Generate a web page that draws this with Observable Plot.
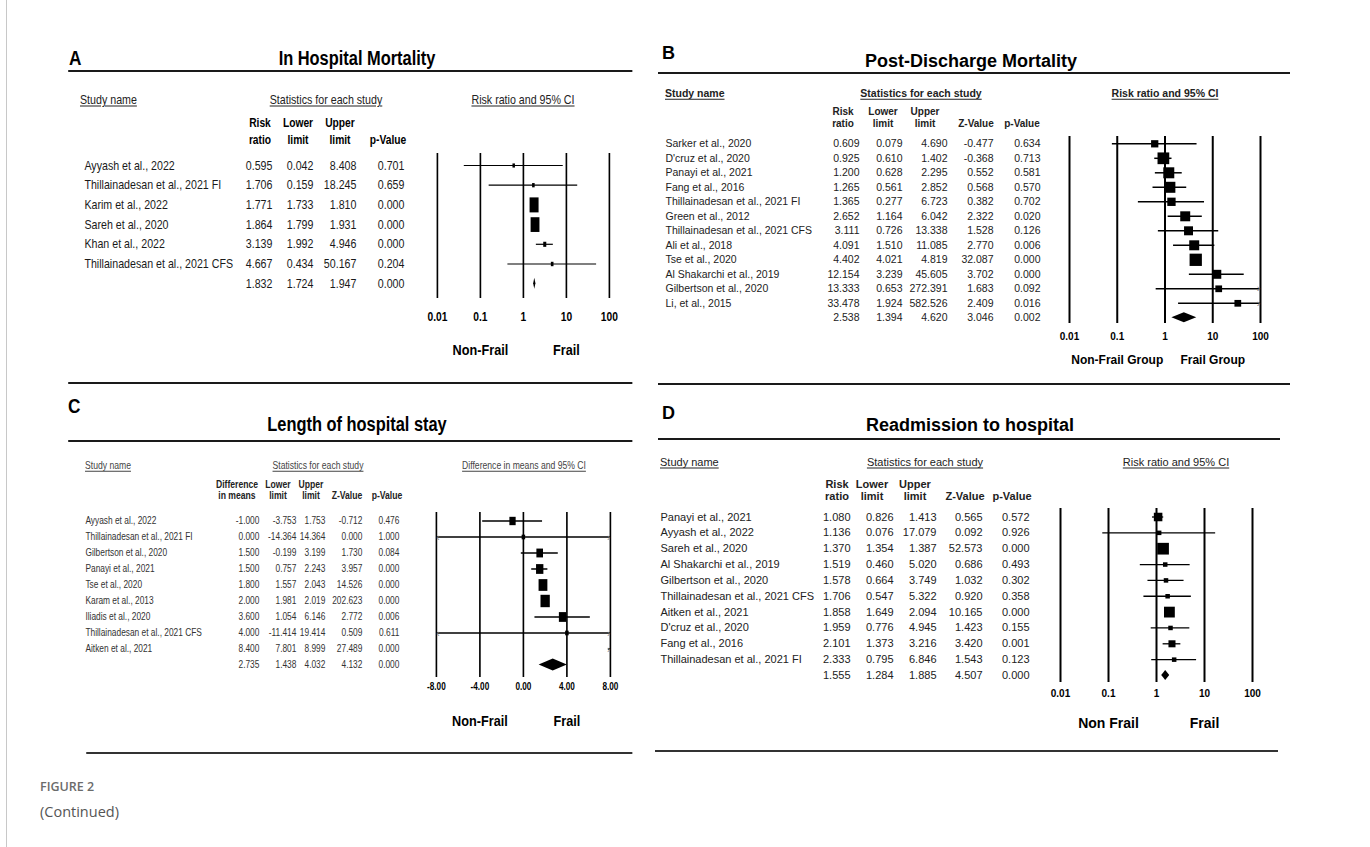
<!DOCTYPE html>
<html><head><meta charset="utf-8">
<script src="https://cdn.jsdelivr.net/npm/d3@7"></script>
<script src="https://cdn.jsdelivr.net/npm/@observablehq/plot@0.6"></script>
<style>
html,body{margin:0;padding:0;background:#fff;}
#page{position:relative;width:1370px;height:847px;overflow:hidden;background:#fff;}
.t{position:absolute;white-space:nowrap;line-height:1;}
.r{position:absolute;}
.p{position:absolute;}
.panel{position:absolute;top:0;height:847px;transform-origin:0 0;}
</style></head><body><div id="page"></div>
<script>
// ---------------- DATA ----------------
// Panel A: In Hospital Mortality
const studiesA = ["Ayyash et al., 2022","Thillainadesan et al., 2021 FI","Karim et al., 2022","Sareh et al., 2020","Khan et al., 2022","Thillainadesan et al., 2021 CFS"];
const rrA    = [0.595, 1.706, 1.771, 1.864, 3.139, 4.667];
const lowerA = [0.042, 0.159, 1.733, 1.799, 1.992, 0.434];
const upperA = [8.408, 18.245, 1.810, 1.931, 4.946, 50.167];
const pA     = [0.701, 0.659, 0.000, 0.000, 0.000, 0.204];
const weightA = [0.3, 0.4, 47, 45, 1.2, 0.5];
const pooledA = [1.832, 1.724, 1.947, 0.000];
const groupsA = ["Non-Frail", "Frail"];

// Panel B: Post-Discharge Mortality
const studiesB = ["Sarker et al., 2020","D'cruz et al., 2020","Panayi et al., 2021","Fang et al., 2016","Thillainadesan et al., 2021 FI","Green et al., 2012","Thillainadesan et al., 2021 CFS","Ali et al., 2018","Tse et al., 2020","Al Shakarchi et al., 2019","Gilbertson et al., 2020","Li, et al., 2015"];
const rrB    = [0.609, 0.925, 1.200, 1.265, 1.365, 2.652, 3.111, 4.091, 4.402, 12.154, 13.333, 33.478];
const lowerB = [0.079, 0.610, 0.628, 0.561, 0.277, 1.164, 0.726, 1.510, 4.021, 3.239, 0.653, 1.924];
const upperB = [4.690, 1.402, 2.295, 2.852, 6.723, 6.042, 13.338, 11.085, 4.819, 45.605, 272.391, 582.526];
const zB     = [-0.477, -0.368, 0.552, 0.568, 0.382, 2.322, 1.528, 2.770, 32.087, 3.702, 1.683, 2.409];
const pB     = [0.634, 0.713, 0.581, 0.570, 0.702, 0.020, 0.126, 0.006, 0.000, 0.000, 0.092, 0.016];
const weightB = [4.2, 10.9, 9.6, 9.6, 5.5, 7.9, 6.4, 7.9, 12, 6.4, 3.6, 3.6];
const pooledB = [2.538, 1.394, 4.620, 3.046, 0.002];
const groupsB = ["Non-Frail Group", "Frail Group"];

// Panel C: Length of hospital stay
const studiesC = ["Ayyash et al., 2022","Thillainadesan et al., 2021 FI","Gilbertson et al., 2020","Panayi et al., 2021","Tse et al., 2020","Karam et al., 2013","Iliadis et al., 2020","Thillainadesan et al., 2021 CFS","Aitken et al., 2021"];
const diffC  = [-1.000, 0.000, 1.500, 1.500, 1.800, 2.000, 3.600, 4.000, 8.400];
const lowerC = [-3.753, -14.364, -0.199, 0.757, 1.557, 1.981, 1.054, -11.414, 7.801];
const upperC = [1.753, 14.364, 3.199, 2.243, 2.043, 2.019, 6.146, 19.414, 8.999];
const zC     = [-0.712, 0.000, 1.730, 3.957, 14.526, 202.623, 2.772, 0.509, 27.489];
const pC     = [0.476, 1.000, 0.084, 0.000, 0.000, 0.000, 0.006, 0.611, 0.000];
const weightC = [4.1, 0.2, 5.0, 6.9, 12, 14, 6.9, 0.2, 11.3];
const pooledC = [2.735, 1.438, 4.032, 4.132, 0.000];
const groupsC = ["Non-Frail", "Frail"];

// Panel D: Readmission to hospital
const studiesD = ["Panayi et al., 2021","Ayyash et al., 2022","Sareh et al., 2020","Al Shakarchi et al., 2019","Gilbertson et al., 2020","Thillainadesan et al., 2021 CFS","Aitken et al., 2021","D'cruz et al., 2020","Fang et al., 2016","Thillainadesan et al., 2021 FI"];
const rrD    = [1.080, 1.136, 1.370, 1.519, 1.578, 1.706, 1.858, 1.959, 2.101, 2.333];
const lowerD = [0.826, 0.076, 1.354, 0.460, 0.664, 0.547, 1.649, 0.776, 1.373, 0.795];
const upperD = [1.413, 17.079, 1.387, 5.020, 3.749, 5.322, 2.094, 4.945, 3.216, 6.846];
const zD     = [0.565, 0.092, 52.573, 0.686, 1.032, 0.920, 10.165, 1.423, 3.420, 1.543];
const pD     = [0.572, 0.926, 0.000, 0.493, 0.302, 0.358, 0.000, 0.155, 0.001, 0.123];
const weightD = [14.8, 0.5, 40, 0.5, 0.5, 0.5, 31.6, 0.5, 7.2, 0.5];
const pooledD = [1.555, 1.284, 1.885, 4.507, 0.000];
const groupsD = ["Non Frail", "Frail"];

// Axis ticks
const ticksRR = [0.01, 0.1, 1, 10, 100];
const tickLabelsRR = ["0.01", "0.1", "1", "10", "100"];
const ticksC = [-8, -4, 0, 4, 8];
const tickLabelsC = ["-8.00", "-4.00", "0.00", "4.00", "8.00"];

// ---------------- LAYOUT / HELPERS ----------------
const ARIAL = '"Liberation Sans",Arial,Helvetica,sans-serif';
const page = document.getElementById("page");

// A panel context: texts are drawn at normal width, then the whole panel is
// horizontally condensed by k (to mimic the narrow typeface of the original).
function makePanel(ox, k) {
  const el = document.createElement("div");
  el.className = "panel";
  el.style.left = ox + "px";
  el.style.width = ((1370 - ox) / k) + "px";
  el.style.transform = `scaleX(${k})`;
  page.append(el);
  return {el, k, X: x => (x - ox) / k};
}

function txt(P, x, y, s, o = {}) {
  const d = document.createElement("div");
  d.className = "t";
  d.textContent = s;
  const ax = o.a === "middle" ? "-50%" : o.a === "end" ? "-100%" : "0";
  Object.assign(d.style, {
    left: P.X(x) + "px", top: y + "px",
    fontFamily: o.f || ARIAL, fontSize: (o.s || 12) + "px",
    fontWeight: o.w || "normal", color: o.c || "#000",
    transform: `translate(${ax},-50%)`,
    textDecoration: o.u ? "underline" : "none",
    textUnderlineOffset: "2px"
  });
  P.el.append(d);
}
function hrule(P, x1, x2, y, t = 2, c = "#1a1a1a") {
  const d = document.createElement("div");
  d.className = "r";
  Object.assign(d.style, {left: P.X(x1) + "px", top: (y - t / 2) + "px", width: ((x2 - x1) / P.k) + "px", height: t + "px", background: c});
  P.el.append(d);
}
const rectSymbol = a => ({
  draw(ctx, size) {
    const r = Math.sqrt(size / Math.PI), w = r * a;
    ctx.moveTo(-w, -r); ctx.lineTo(w, -r); ctx.lineTo(w, r); ctx.lineTo(-w, r); ctx.closePath();
  }
});

function forest(P, cfg) {
  const n = cfg.names.length, N = n + 1;
  const [dmin, dmax] = cfg.xDomain;
  const rows = cfg.names.map((name, i) => ({i, name, est: cfg.est[i], lo: cfg.lo[i], hi: cfg.hi[i], w: cfg.weight[i], vals: cfg.cols.map(c => c[i])}));
  const pooled = cfg.pooled;
  const table = rows.concat([{i: n, name: "", vals: pooled}]);
  const clampX = v => Math.max(dmin, Math.min(dmax, v));
  const L = cfg.box.left, T = cfg.box.top;
  const lx = x => (x - L) / P.k;            // page x -> svg x (pre-condensing)
  const lastY = cfg.rowY0 + (N - 1) * cfg.step;
  const h = cfg.diamondHalf / cfg.step;
  const fmt = v => v.toFixed(3);
  const tOpt = {fontFamily: ARIAL, fontSize: cfg.rowSize, fill: cfg.rowColor};
  const marks = [
    Plot.ruleX(cfg.ticks, {stroke: "#000", strokeWidth: cfg.gridWidth}),
    Plot.axisX({ticks: cfg.ticks, tickFormat: d => cfg.tickLabels[cfg.ticks.indexOf(d)], tickSize: 0, tickPadding: cfg.tickPad,
      fontSize: cfg.tickSize, fontWeight: "bold", fontFamily: ARIAL, fill: "#000", label: null}),
    Plot.text(table, {y: "i", text: "name", frameAnchor: "left", dx: lx(cfg.nameX), textAnchor: "start", ...tOpt}),
    ...cfg.colRight.map((xr, k) => Plot.text(table, {y: "i", text: d => fmt(d.vals[k]), frameAnchor: "left", dx: lx(xr), textAnchor: "end", ...tOpt})),
    Plot.ruleY(rows, {y: "i", x1: d => clampX(d.lo), x2: d => clampX(d.hi), stroke: "#000", strokeWidth: cfg.ciWidth}),
    Plot.dot(rows.filter(d => d.est >= dmin && d.est <= dmax), {x: "est", y: "i", r: "w", symbol: rectSymbol(cfg.aspect / P.k), fill: "#000", stroke: "none"}),
    Plot.text(rows.filter(d => d.hi > dmax), {x: dmax, y: "i", text: () => "›", fontSize: 11, fill: "#888", dx: -2, fontFamily: ARIAL}),
    Plot.text(rows.filter(d => d.lo < dmin), {x: dmin, y: "i", text: () => "‹", fontSize: 11, fill: "#888", dx: 2, fontFamily: ARIAL}),
    Plot.areaX([
      {y: n - h, x1: pooled[0], x2: pooled[0]},
      {y: n, x1: pooled[1], x2: pooled[2]},
      {y: n + h, x1: pooled[0], x2: pooled[0]}
    ], {y: "y", x1: "x1", x2: "x2", fill: "#000", curve: "linear"}),
    Plot.text(cfg.groups, {x: (d, i) => cfg.groupX[i], frameAnchor: "bottom", dy: cfg.groupY - cfg.lineBottom, text: d => d,
      fontWeight: "bold", fontSize: cfg.groupSize, fontFamily: ARIAL, fill: "#000"})
  ];
  const svg = Plot.plot({
    width: cfg.box.width / P.k, height: cfg.box.height,
    marginLeft: 0, marginRight: 0,
    marginTop: cfg.lineTop - T, marginBottom: T + cfg.box.height - cfg.lineBottom,
    x: {type: cfg.xType, domain: cfg.xDomain, range: [lx(cfg.xPix[0]), lx(cfg.xPix[1])]},
    y: {type: "linear", domain: [0, N - 1], range: [cfg.rowY0 - T, lastY - T], axis: null},
    r: {type: "pow", exponent: 0.5, domain: [0, cfg.wMax], range: cfg.rRange},
    style: {background: "none", overflow: "visible", fontFamily: ARIAL, color: "#000"},
    marks
  });
  const wrap = document.createElement("div");
  wrap.className = "p";
  wrap.style.left = P.X(L) + "px"; wrap.style.top = T + "px";
  wrap.append(svg);
  P.el.append(wrap);
}

// ---------------- PAGE FRAME ----------------
(function () {
  const b = document.createElement("div");
  Object.assign(b.style, {position: "absolute", left: "6px", top: "0px", width: "1px", height: "847px", background: "#c8c8c8"});
  page.append(b);
})();

const KN = 0.82; // condensing factor for the narrow-type panels A and C

// ---------------- PANEL A ----------------
const PA = makePanel(60, KN);
txt(PA, 69, 57, "A", {s: 21, w: "bold"});
txt(PA, 357, 58, "In Hospital Mortality", {s: 20, w: "bold", a: "middle"});
hrule(PA, 68, 632, 71, 2);
txt(PA, 80, 99, "Study name", {s: 13, u: true, c: "#222"});
txt(PA, 326, 99, "Statistics for each study", {s: 13, a: "middle", u: true, c: "#222"});
txt(PA, 523, 99, "Risk ratio and 95% CI", {s: 13, a: "middle", u: true, c: "#222"});
[["Risk","ratio",260],["Lower","limit",298],["Upper","limit",340],["","p-Value",388]].forEach(([a, b, x]) => {
  if (a) txt(PA, x, 123, a, {s: 12.5, w: "bold", a: "middle"});
  txt(PA, x, 140, b, {s: 12.5, w: "bold", a: "middle"});
});
forest(PA, {
  box: {left: 60, top: 40, width: 590, height: 345},
  names: studiesA, est: rrA, lo: lowerA, hi: upperA, cols: [rrA, lowerA, upperA, pA], weight: weightA, pooled: pooledA,
  xType: "log", xDomain: [0.01, 100], xPix: [437, 609],
  rowY0: 165, step: 19.7, lineTop: 153, lineBottom: 298,
  ticks: ticksRR, tickLabels: tickLabelsRR, tickPad: 14, tickSize: 12.5,
  rowSize: 13, rowColor: "#1a1a1a",
  nameX: 84, colRight: [272, 313, 356, 404],
  ciWidth: 1.2, gridWidth: 2, aspect: 0.6, rRange: [1.6, 7.5], wMax: 47, diamondHalf: 5.5,
  groups: groupsA, groupX: [0.1, 10], groupY: 355, groupSize: 15.5
});
hrule(PA, 68, 632, 383, 2);

// ---------------- PANEL B ----------------
const PB = makePanel(0, 1);
txt(PB, 662, 53, "B", {s: 18, w: "bold"});
txt(PB, 971, 61, "Post-Discharge Mortality", {s: 18, w: "bold", a: "middle"});
hrule(PB, 658, 1290, 73, 2);
txt(PB, 665, 93, "Study name", {s: 10.5, w: "bold", u: true, c: "#222"});
txt(PB, 921, 93, "Statistics for each study", {s: 10.5, w: "bold", a: "middle", u: true, c: "#222"});
txt(PB, 1165, 93, "Risk ratio and 95% CI", {s: 10.5, w: "bold", a: "middle", u: true, c: "#222"});
[["Risk","ratio",843],["Lower","limit",883],["Upper","limit",925],["","Z-Value",976],["","p-Value",1022]].forEach(([a, b, x]) => {
  if (a) txt(PB, x, 112, a, {s: 10, w: "bold", a: "middle", c: "#222"});
  txt(PB, x, 124, b, {s: 10, w: "bold", a: "middle", c: "#222"});
});
forest(PB, {
  box: {left: 650, top: 40, width: 650, height: 345},
  names: studiesB, est: rrB, lo: lowerB, hi: upperB, cols: [rrB, lowerB, upperB, zB, pB], weight: weightB, pooled: pooledB,
  xType: "log", xDomain: [0.01, 100], xPix: [1069, 1260],
  rowY0: 143.3, step: 14.5, lineTop: 136, lineBottom: 323,
  ticks: ticksRR, tickLabels: tickLabelsRR, tickPad: 9, tickSize: 10,
  rowSize: 10.5, rowColor: "#222",
  nameX: 665, colRight: [859, 902, 947, 993, 1040],
  ciWidth: 1.5, gridWidth: 2, aspect: 1, rRange: [0, 6.15], wMax: 12, diamondHalf: 5,
  groups: groupsB, groupX: [0.1, 10], groupY: 363, groupSize: 12
});
hrule(PB, 658, 1290, 384, 2);

// ---------------- PANEL C ----------------
const PC = makePanel(60, KN);
txt(PC, 68, 405, "C", {s: 21, w: "bold"});
txt(PC, 357, 424, "Length of hospital stay", {s: 20, w: "bold", a: "middle"});
hrule(PC, 68, 632, 441, 2);
txt(PC, 85, 465, "Study name", {s: 10.5, u: true, c: "#444"});
txt(PC, 318, 465, "Statistics for each study", {s: 10.5, a: "middle", u: true, c: "#444"});
txt(PC, 524, 465, "Difference in means and 95% CI", {s: 10.5, a: "middle", u: true, c: "#444"});
[["Difference","in means",237],["Lower","limit",278],["Upper","limit",311],["","Z-Value",347],["","p-Value",387]].forEach(([a, b, x]) => {
  if (a) txt(PC, x, 484, a, {s: 10.5, w: "bold", a: "middle", c: "#222"});
  txt(PC, x, 495, b, {s: 10.5, w: "bold", a: "middle", c: "#222"});
});
forest(PC, {
  box: {left: 60, top: 395, width: 590, height: 345},
  names: studiesC, est: diffC, lo: lowerC, hi: upperC, cols: [diffC, lowerC, upperC, zC, pC], weight: weightC, pooled: pooledC,
  xType: "linear", xDomain: [-8, 8], xPix: [436, 610],
  rowY0: 520.5, step: 16, lineTop: 512, lineBottom: 677,
  ticks: ticksC, tickLabels: tickLabelsC, tickPad: 5, tickSize: 10,
  rowSize: 10.2, rowColor: "#333",
  nameX: 85, colRight: [259, 296, 325, 362, 399],
  ciWidth: 1.5, gridWidth: 2, aspect: 0.75, rRange: [1.8, 6.2], wMax: 14, diamondHalf: 6,
  groups: groupsC, groupX: [-4, 4], groupY: 726, groupSize: 15.5
});
hrule(PC, 86, 632, 753, 2, "#333");

// ---------------- PANEL D ----------------
const PD = makePanel(0, 1);
txt(PD, 662, 413, "D", {s: 18, w: "bold"});
txt(PD, 970, 425, "Readmission to hospital", {s: 18, w: "bold", a: "middle"});
hrule(PD, 658, 1280, 439, 2);
txt(PD, 660, 462, "Study name", {s: 11, u: true, c: "#222"});
txt(PD, 925, 462, "Statistics for each study", {s: 11, a: "middle", u: true, c: "#222"});
txt(PD, 1176, 462, "Risk ratio and 95% CI", {s: 11, a: "middle", u: true, c: "#222"});
[["Risk","ratio",837],["Lower","limit",872],["Upper","limit",915],["","Z-Value",965],["","p-Value",1012]].forEach(([a, b, x]) => {
  if (a) txt(PD, x, 484, a, {s: 11, w: "bold", a: "middle", c: "#222"});
  txt(PD, x, 496, b, {s: 11, w: "bold", a: "middle", c: "#222"});
});
forest(PD, {
  box: {left: 650, top: 395, width: 650, height: 345},
  names: studiesD, est: rrD, lo: lowerD, hi: upperD, cols: [rrD, lowerD, upperD, zD, pD], weight: weightD, pooled: pooledD,
  xType: "log", xDomain: [0.01, 100], xPix: [1060, 1252],
  rowY0: 516.5, step: 15.85, lineTop: 508, lineBottom: 682,
  ticks: ticksRR, tickLabels: tickLabelsRR, tickPad: 7.5, tickSize: 10,
  rowSize: 11, rowColor: "#222",
  nameX: 660, colRight: [850, 893, 936, 982, 1029],
  ciWidth: 1.3, gridWidth: 2, aspect: 1, rRange: [1.8, 5.85], wMax: 40, diamondHalf: 5,
  groups: groupsD, groupX: [0.1, 10], groupY: 727, groupSize: 14
});
hrule(PD, 655, 1278, 751, 2, "#333");

// ---------------- CAPTION ----------------
const P0 = makePanel(0, 1);
txt(P0, 40, 787, "FIGURE 2", {f: '"Open Sans","Noto Sans",sans-serif', s: 12.5, w: 600, c: "#6b6b6b"});
txt(P0, 40, 812, "(Continued)", {f: '"Open Sans","Noto Sans",sans-serif', s: 14.5, c: "#555"});
</script></body></html>
